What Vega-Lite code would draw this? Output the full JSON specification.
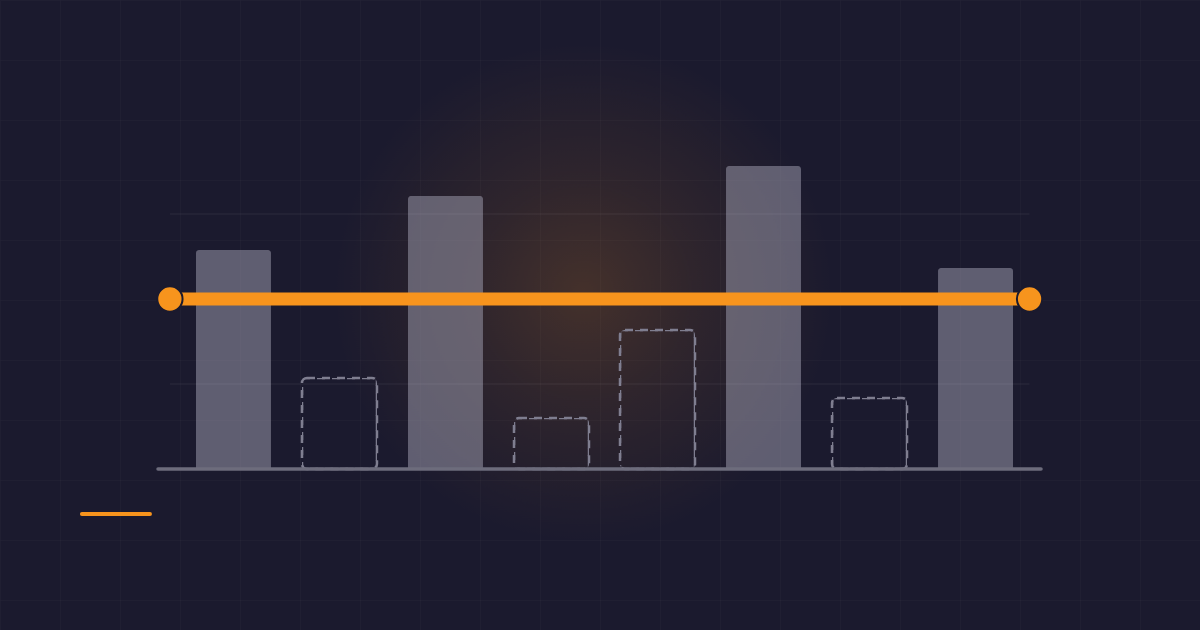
{
  "$schema": "https://vega.github.io/schema/vega-lite/v6.json",
  "width": 1200,
  "height": 630,
  "autosize": {"type": "none"},
  "padding": 0,
  "background": "#1b1a2e",
  "config": {"view": {"stroke": null}},
  "datasets": {
    "bars": [
      {"bar": 1, "value": 64.4, "kind": "solid"},
      {"bar": 2, "value": 26.8, "kind": "dashed"},
      {"bar": 3, "value": 80.3, "kind": "solid"},
      {"bar": 4, "value": 15.0, "kind": "dashed"},
      {"bar": 5, "value": 40.9, "kind": "dashed"},
      {"bar": 6, "value": 89.1, "kind": "solid"},
      {"bar": 7, "value": 20.9, "kind": "dashed"},
      {"bar": 8, "value": 59.1, "kind": "solid"}
    ],
    "goal": [{"level": 50}]
  },
  "layer": [
    {
      "data": {"values": [{}]},
      "mark": {"type": "point", "opacity": 0, "size": 0},
      "encoding": {
        "x": {"datum": 0, "type": "quantitative", "scale": {"domain": [0, 20], "range": [0, 1200], "nice": false, "zero": false},
              "axis": {"grid": true, "labels": false, "ticks": false, "domain": false, "title": null, "values": [0,1,2,3,4,5,6,7,8,9,10,11,12,13,14,15,16,17,18,19,20], "gridColor": "#ffffff", "gridOpacity": 0.025, "gridWidth": 1}},
        "y": {"datum": 0, "type": "quantitative", "scale": {"domain": [0, 10.5], "range": [0, 630], "nice": false, "zero": false},
              "axis": {"grid": true, "labels": false, "ticks": false, "domain": false, "title": null, "values": [0,1,2,3,4,5,6,7,8,9,10], "gridColor": "#ffffff", "gridOpacity": 0.025, "gridWidth": 1}}
      }
    },
    {
      "data": {"values": [{}]},
      "mark": {
        "type": "point", "shape": "circle", "size": 250000, "strokeWidth": 0, "opacity": 1, "filled": true,
        "fill": {"gradient": "radial", "x1": 0.5, "y1": 0.5, "r1": 0, "x2": 0.5, "y2": 0.5, "r2": 0.5,
          "stops": [
            {"offset": 0, "color": "rgba(247,147,30,0.19)"},
            {"offset": 0.45, "color": "rgba(247,147,30,0.09)"},
            {"offset": 1, "color": "rgba(247,147,30,0)"}
          ]}
      },
      "encoding": {
        "x": {"datum": 3.8, "type": "quantitative", "scale": {"domain": [0, 8], "range": [180.5, 1028.5], "nice": false, "zero": false}, "axis": null},
        "y": {"datum": 52, "type": "quantitative", "scale": {"domain": [0, 100], "range": [469, 129], "nice": false, "zero": false}, "axis": null}
      }
    },
    {
      "data": {"name": "bars"},
      "encoding": {
        "x": {"field": "bar", "type": "ordinal", "scale": {"range": [180.5, 1028.5], "paddingInner": 0.2925, "paddingOuter": 0.146}, "axis": null},
        "y": {"field": "value", "type": "quantitative", "scale": {"domain": [0, 100], "range": [469, 129], "nice": false, "zero": false}, "axis": null}
      },
      "layer": [
        {
          "transform": [{"filter": "datum.kind === 'solid'"}],
          "mark": {"type": "bar", "fill": "#9594a6", "opacity": 0.56, "cornerRadiusTopLeft": 3, "cornerRadiusTopRight": 3}
        },
        {
          "transform": [{"filter": "datum.kind === 'dashed'"}],
          "mark": {"type": "bar", "fill": "transparent", "stroke": "#7f7e90", "strokeWidth": 2.5, "strokeDash": [8, 7], "cornerRadius": 5}
        }
      ]
    },
    {
      "data": {"name": "goal"},
      "layer": [
        {
          "mark": {"type": "rule", "stroke": "#ffffff", "strokeOpacity": 0.07, "strokeWidth": 1},
          "encoding": {
            "x": {"datum": -0.1, "type": "quantitative", "scale": {"domain": [0, 8], "range": [180.5, 1028.5], "nice": false, "zero": false}, "axis": null},
            "x2": {"datum": 8.01},
            "y": {"datum": 75, "type": "quantitative", "scale": {"domain": [0, 100], "range": [469, 129], "nice": false, "zero": false}, "axis": null}
          }
        },
        {
          "mark": {"type": "rule", "stroke": "#ffffff", "strokeOpacity": 0.07, "strokeWidth": 1},
          "encoding": {
            "x": {"datum": -0.1, "type": "quantitative"},
            "x2": {"datum": 8.01},
            "y": {"datum": 25, "type": "quantitative"}
          }
        },
        {
          "mark": {"type": "rule", "stroke": "#6d6c7c", "strokeWidth": 3.5, "strokeCap": "round"},
          "encoding": {
            "x": {"datum": -0.212, "type": "quantitative"},
            "x2": {"datum": 8.118},
            "y": {"datum": 0, "type": "quantitative"}
          }
        },
        {
          "mark": {"type": "rule", "stroke": "#f7941d", "strokeWidth": 13},
          "encoding": {
            "x": {"datum": -0.1, "type": "quantitative"},
            "x2": {"datum": 8.01},
            "y": {"field": "level", "type": "quantitative"}
          }
        },
        {
          "mark": {"type": "point", "shape": "circle", "filled": true, "fill": "#f7941d", "stroke": "#1b1a2e", "strokeWidth": 2, "opacity": 1, "size": 640},
          "encoding": {
            "x": {"datum": -0.1, "type": "quantitative"},
            "y": {"field": "level", "type": "quantitative"}
          }
        },
        {
          "mark": {"type": "point", "shape": "circle", "filled": true, "fill": "#f7941d", "stroke": "#1b1a2e", "strokeWidth": 2, "opacity": 1, "size": 640},
          "encoding": {
            "x": {"datum": 8.01, "type": "quantitative"},
            "y": {"field": "level", "type": "quantitative"}
          }
        },
        {
          "mark": {"type": "rule", "stroke": "#f7941d", "strokeWidth": 4, "strokeCap": "round"},
          "encoding": {
            "x": {"datum": -0.93, "type": "quantitative"},
            "x2": {"datum": -0.288},
            "y": {"datum": -13.24, "type": "quantitative"}
          }
        }
      ]
    }
  ],
  "resolve": {"scale": {"x": "independent", "y": "independent"}, "axis": {"x": "independent", "y": "independent"}}
}
